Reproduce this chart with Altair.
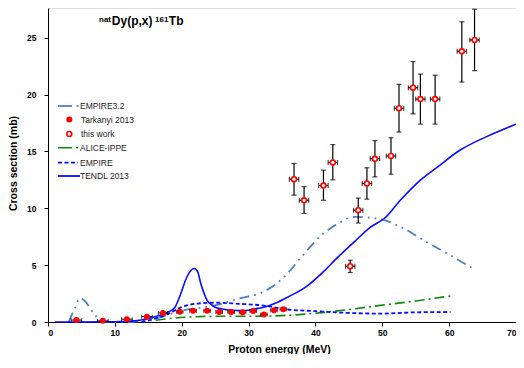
import altair as alt
import pandas as pd

# ---------------- data ----------------
tendl_x = [1, 5, 10, 13, 15, 16.5, 18, 19, 19.8, 20.8, 21.4, 21.9, 22.4, 22.8, 23.3, 23.8, 24.5, 25,
           26, 27.5, 29, 30, 31.4, 32.4, 34, 35.9, 38.9, 40.9, 43.4, 45.8, 48.3, 50.3, 52.7, 55.7,
           58.2, 61.6, 65.6, 70]
tendl_y = [0, 0, 0.02, 0.1, 0.3, 0.55, 0.88, 1.3, 2.4, 4.0, 4.55, 4.7, 4.4, 3.5, 2.6, 1.9, 1.5, 1.3,
           1.15, 1.03, 1.0, 1.03, 1.2, 1.32, 1.65, 2.2, 3.23, 4.26, 5.72, 7.04, 8.36, 9.1, 10.7, 12.47,
           13.6, 15.1, 16.3, 17.4]

emp32_x = [3.1, 4.0, 4.8, 5.6, 6.5, 7.2, 8.0, 12, 16, 20, 24, 26, 28.5, 32.2, 35.4, 37.9, 40.9,
           43.4, 45.8, 47.8, 50.3, 53.2, 56.6, 60.6, 63.9]
emp32_y = [0, 1.2, 2.1, 1.8, 1.03, 0.5, 0.0, 0.0, 0.3, 1.0, 1.35, 1.6, 2.06, 2.64, 4.0, 5.72, 7.63,
           8.66, 9.24, 9.19, 8.95, 8.22, 7.04, 5.72, 4.6]

empire_x = [14, 16, 18.1, 20, 22, 25, 28.5, 31.9, 35.9, 40, 44, 49.8, 55, 60.2]
empire_y = [0.0, 0.3, 0.74, 1.32, 1.6, 1.7, 1.6, 1.47, 1.1, 0.95, 0.82, 0.74, 0.85, 0.88]

alice_x = [16.1, 18.1, 21.1, 25, 30, 35.9, 41.3, 45, 49.7, 55, 60.2]
alice_y = [0.15, 0.3, 0.44, 0.5, 0.5, 0.59, 0.85, 1.1, 1.46, 1.85, 2.29]

tark_x = [4.25, 8.2, 11.8, 14.8, 17.2, 19.7, 21.7, 23.8, 25.6, 27.4, 29.1, 30.7, 32.3, 33.8, 35.2]
tark_y = [0.17, 0.1, 0.25, 0.47, 0.8, 0.9, 1.0, 1.0, 0.88, 0.88, 0.85, 0.97, 0.65, 1.03, 1.12]
tark_dx = [0.8, 0.8, 0.8, 0.8, 0.7, 0.5, 0.5, 0.5, 0.5, 0.5, 0.5, 0.5, 0.5, 0.5, 0.5]

work_x = [36.8, 38.3, 41.2, 42.6, 45.2, 46.4, 47.7, 48.9, 51.3, 52.5, 54.6, 55.7, 57.9, 61.9, 63.8]
work_y = [12.56, 10.7, 12.0, 14.03, 4.9, 9.83, 12.18, 14.35, 14.6, 18.8, 20.6, 19.6, 19.6, 23.8, 24.8]
work_lo = [11.15, 9.54, 10.7, 12.5, 4.35, 8.7, 10.8, 12.76, 13.0, 16.7, 18.3, 17.4, 17.4, 21.1, 22.1]
work_hi = [13.94, 11.9, 13.35, 15.6, 5.43, 10.9, 13.56, 15.95, 16.2, 20.9, 22.9, 21.8, 21.7, 26.4, 27.5]
work_dx = [0.7] * 15

x_ticks = [0, 10, 20, 30, 40, 50, 60, 70]
y_ticks = [0, 5, 10, 15, 20, 25]

legend_labels = ["EMPIRE3.2", "Tarkanyi 2013", "this work", "ALICE-IPPE", "EMPIRE", "TENDL 2013"]

# ---------------- styling ----------------
FONT = "Liberation Sans"
W, H = 468, 314
xs = alt.Scale(domain=[0, 70], nice=False, zero=False)
ys = alt.Scale(domain=[0, 27.61], nice=False, zero=False)

x_axis = alt.Axis(values=x_ticks, title="Proton energy (MeV)", grid=False, tickSize=4,
                  labelPadding=2, labelFontWeight="bold", labelFontSize=8.5, labelFont=FONT,
                  titleFont=FONT, titleFontSize=10.5, titleFontWeight="bold",
                  titleX=231, titleY=27.5, titleBaseline="middle", titleAlign="center",
                  domainColor="black", tickColor="black", labelColor="black", titleColor="black")
y_axis = alt.Axis(values=y_ticks, title="Cross section (mb)", grid=False, tickSize=4,
                  labelPadding=8, labelFontWeight="bold", labelFontSize=8.5, labelFont=FONT,
                  titleFont=FONT, titleFontSize=10.5, titleFontWeight="bold",
                  titleX=-34.5, titleY=155, titleAngle=-90, titleBaseline="middle",
                  titleAlign="center",
                  domainColor="black", tickColor="black", labelColor="black", titleColor="black")


def X(field):
    return alt.X(field, type="quantitative", scale=xs, axis=x_axis)


def Y(field):
    return alt.Y(field, type="quantitative", scale=ys, axis=y_axis)


def curve(xv, yv, color, dash, width):
    df = pd.DataFrame({"e": xv, "cs": yv})
    kw = dict(color=color, strokeWidth=width, interpolate="monotone")
    if dash:
        kw["strokeDash"] = dash
    return alt.Chart(df).mark_line(**kw).encode(x=X("e"), y=Y("cs"))


STEEL = "#4f81bd"
BLUE = "#0a0aff"
GREEN = "#118a11"
RED = "#ff0000"

c_emp32 = curve(emp32_x, emp32_y, STEEL, [10, 5, 1.8, 5, 1.8, 5], 1.8)
c_alice = curve(alice_x, alice_y, GREEN, [10, 4, 2, 4], 1.6)
c_empire = curve(empire_x, empire_y, BLUE, [4, 2.5], 1.8)
c_tendl = curve(tendl_x, tendl_y, BLUE, None, 1.6)

# Tarkanyi points with horizontal error bars
tdf = pd.DataFrame({"e": tark_x, "cs": tark_y,
                    "lo": [a - b for a, b in zip(tark_x, tark_dx)],
                    "hi": [a + b for a, b in zip(tark_x, tark_dx)]})
t_hbar = alt.Chart(tdf).mark_rule(color="black", strokeWidth=1).encode(x=X("lo"), x2="hi", y=Y("cs"))
t_cap1 = alt.Chart(tdf).mark_tick(color="black", orient="vertical", size=4, thickness=1).encode(x=X("lo"), y=Y("cs"))
t_cap2 = alt.Chart(tdf).mark_tick(color="black", orient="vertical", size=4, thickness=1).encode(x=X("hi"), y=Y("cs"))
t_pts = alt.Chart(tdf).mark_circle(color=RED, size=36, opacity=1).encode(x=X("e"), y=Y("cs"))

# this work: open circles with error bars
wdf = pd.DataFrame({"e": work_x, "cs": work_y, "ylo": work_lo, "yhi": work_hi,
                    "xlo": [a - b for a, b in zip(work_x, work_dx)],
                    "xhi": [a + b for a, b in zip(work_x, work_dx)]})
w_vbar = alt.Chart(wdf).mark_rule(color="black", strokeWidth=1.2).encode(x=X("e"), y=Y("ylo"), y2="yhi")
w_vc1 = alt.Chart(wdf).mark_tick(color="black", orient="horizontal", size=5, thickness=1.2).encode(x=X("e"), y=Y("ylo"))
w_vc2 = alt.Chart(wdf).mark_tick(color="black", orient="horizontal", size=5, thickness=1.2).encode(x=X("e"), y=Y("yhi"))
w_hbar = alt.Chart(wdf).mark_rule(color="black", strokeWidth=1.2).encode(x=X("xlo"), x2="xhi", y=Y("cs"))
w_hc1 = alt.Chart(wdf).mark_tick(color="black", orient="vertical", size=5, thickness=1.2).encode(x=X("xlo"), y=Y("cs"))
w_hc2 = alt.Chart(wdf).mark_tick(color="black", orient="vertical", size=5, thickness=1.2).encode(x=X("xhi"), y=Y("cs"))
w_pts = alt.Chart(wdf).mark_point(shape="circle", filled=True, fill="white", stroke=RED,
                                  strokeWidth=1.6, size=24, opacity=1).encode(x=X("e"), y=Y("cs"))

# ---------------- title (with superscripts) ----------------
one = pd.DataFrame({"k": [0]})


def txt(s, x, y, size, bold=True, align="left", color="black"):
    return alt.Chart(one).mark_text(text=s, font=FONT, fontSize=size,
                                    fontWeight="bold" if bold else "normal",
                                    align=align, baseline="alphabetic", color=color).encode(
        x=alt.value(x), y=alt.value(y))


title_layers = [
    txt("nat", 51, 13.5, 8),
    txt("Dy(p,x)", 63.8, 17, 12),
    txt("161", 107, 13.5, 8),
    txt("Tb", 120.8, 17, 12),
]

# ---------------- legend ----------------
leg_y = [98, 111.5, 126, 139.7, 154.7, 168]


def seg(x1, x2, y, color, width, dash=None):
    kw = dict(color=color, strokeWidth=width)
    if dash:
        kw["strokeDash"] = dash
    return alt.Chart(one).mark_rule(**kw).encode(x=alt.value(x1), x2=alt.value(x2), y=alt.value(y))


def ltxt(s, x, y):
    return alt.Chart(one).mark_text(text=s, font=FONT, fontSize=8.5, align="left",
                                    baseline="middle", color="#222222").encode(
        x=alt.value(x), y=alt.value(y))


legend_layers = [
    seg(10, 24, leg_y[0], STEEL, 1.8), seg(28.5, 30.5, leg_y[0], STEEL, 1.8), ltxt(legend_labels[0], 32, leg_y[0]),
    alt.Chart(one).mark_circle(color=RED, size=36, opacity=1).encode(x=alt.value(21.3), y=alt.value(leg_y[1])),
    ltxt(legend_labels[1], 33, leg_y[1]),
    alt.Chart(one).mark_point(shape="circle", filled=True, fill="white", stroke=RED, strokeWidth=1.6,
                              size=24, opacity=1).encode(x=alt.value(21.3), y=alt.value(leg_y[2])),
    ltxt(legend_labels[2], 33, leg_y[2]),
    seg(10, 24, leg_y[3], GREEN, 1.6), seg(28, 30, leg_y[3], GREEN, 1.6), ltxt(legend_labels[3], 32, leg_y[3]),
    seg(10, 30, leg_y[4], BLUE, 1.8, [4, 2.5]), ltxt(legend_labels[4], 32, leg_y[4]),
    seg(10, 32, leg_y[5], BLUE, 1.8), ltxt(legend_labels[5], 32, leg_y[5]),
]

chart = alt.layer(
    c_emp32, c_alice, c_empire, c_tendl,
    t_hbar, t_cap1, t_cap2, t_pts,
    w_vbar, w_vc1, w_vc2, w_hbar, w_hc1, w_hc2, w_pts,
    *title_layers, *legend_layers,
).properties(
    width=W, height=H,
    autosize="none",
    padding={"left": 40, "top": 0, "right": 0, "bottom": 32},
).configure_view(
    stroke="#555555", strokeWidth=1
).configure(background="white")

chart.save("out.html", embed_options={"renderer": "svg", "actions": False})
